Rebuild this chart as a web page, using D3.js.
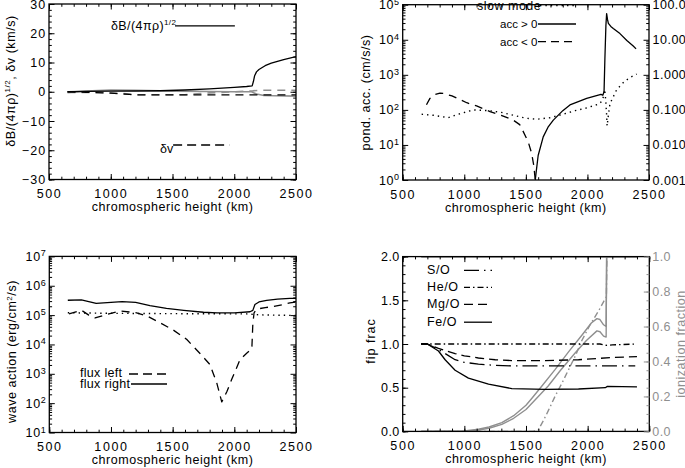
<!DOCTYPE html>
<html><head><meta charset="utf-8">
<script src="https://cdn.jsdelivr.net/npm/d3@7"></script>
<style>
body{margin:0;background:#fff}
svg text{font-family:"Liberation Sans",Arial,Helvetica,sans-serif;}
</style></head><body>
<svg id="c" width="685" height="468"></svg>
<script>
// ---------- data ----------
const heightTicks = [500, 1000, 1500, 2000, 2500];
const xLabel = "chromospheric height (km)";

// panel 1: amplitudes (km/s)
const velTicks = [-30, -20, -10, 0, 10, 20, 30];
const dBAlfven = [[650,0],[800,0.1],[1000,0.2],[1200,0.25],[1400,0.35],[1600,0.6],[1800,1.0],[2000,1.5],[2100,1.8],[2145,2.0],[2155,3.5],[2165,5.5],[2180,6.8],[2200,7.6],[2250,8.9],[2300,9.8],[2400,11.0],[2500,12.0]];
const dvBlack = [[650,0],[800,-0.2],[1000,-0.5],[1150,-0.9],[1200,-1.05],[1500,-1.1],[2000,-1.1],[2500,-1.1]];
const dBGray = [[650,-0.2],[800,0.2],[1000,0.6],[1200,0.5],[1500,0.2],[1800,0.1],[2000,0.0],[2140,0.0],[2180,-0.8],[2240,-1.3],[2500,-1.5]];
const dvGray = [[650,-0.2],[900,-0.2],[1100,-0.6],[1200,-1.0],[1600,-1.0],[1800,-0.4],[2000,0.0],[2150,0.3],[2200,0.5],[2500,0.5]];

// panel 2: ponderomotive acceleration (cm/s/s)
const accDecades = [1, 10, 100, 1000, 10000, 100000];
const accRightLabels = ["0.001", "0.010", "0.100", "1.000", "10.00", "100.0"];
const accPos = [[1575,0.9],[1582,1.5],[1600,5],[1641,17],[1680,32],[1723,51],[1800,95],[1858,138],[1994,214],[2110,277],[2125,262],[2135,330],[2142,3000],[2150,25000],[2156,56000],[2163,38000],[2170,29500],[2190,24000],[2210,21000],[2264,15000],[2320,9500],[2372,6600],[2395,5500]];
const accNeg = [[693,140],[720,210],[760,272],[803,300],[830,297],[900,250],[1020,160],[1100,130],[1209,89],[1300,70],[1398,51],[1450,38],[1479,24],[1520,12],[1547,5.8],[1565,2.5],[1574,1.2],[1578,0.8]];
const slowMode = [[654,75],[750,70],[870,60],[950,75],[1073,100],[1200,95],[1300,85],[1400,70],[1500,58],[1588,54],[1700,60],[1800,75],[1900,95],[2000,115],[2100,150],[2125,200],[2140,380],[2148,200],[2155,80],[2160,35],[2170,70],[2183,150],[2238,380],[2300,650],[2350,850],[2400,1050]];

// panel 3: wave action (erg/cm2/s)
const waveDecades = [10, 100, 1e3, 1e4, 1e5, 1e6, 1e7];
const fluxRight = [[650,3.2e5],[760,3.3e5],[880,2.5e5],[1000,2.7e5],[1090,2.9e5],[1200,2.7e5],[1316,2.1e5],[1450,1.7e5],[1590,1.45e5],[1750,1.25e5],[1860,1.2e5],[2000,1.2e5],[2127,1.3e5],[2150,1.45e5],[2167,2.3e5],[2200,2.8e5],[2262,3.2e5],[2350,3.5e5],[2450,3.7e5],[2500,3.7e5]];
const fluxLeft = [[660,1.1e5],[762,1.45e5],[820,1.0e5],[871,0.8e5],[950,1.0e5],[1073,1.38e5],[1208,1.2e5],[1300,0.9e5],[1370,0.63e5],[1500,3.2e4],[1613,1.5e4],[1720,5e3],[1801,2.1e3],[1857,5e2],[1898,1.1e2],[1940,2.5e2],[1979,6.5e2],[2047,3.1e3],[2100,5.0e3],[2142,7.1e3],[2150,5e4],[2160,1.2e5],[2180,1.6e5],[2250,1.8e5],[2316,1.95e5],[2400,2.3e5],[2450,2.6e5],[2500,2.8e5]];
const fluxTotal = [[650,1.2e5],[1000,1.15e5],[1500,1.12e5],[2100,1.1e5],[2200,1.02e5],[2500,0.97e5]];

// panel 4: FIP fractionation and ionization fraction
const fipTicks = [0, 0.5, 1.0, 1.5, 2.0];
const ionTicks = [0, 0.2, 0.4, 0.6, 0.8, 1.0];
const heOverO = [[650,1.0],[2100,1.0],[2150,0.985],[2200,0.99],[2400,1.0]];
const sOverO = [[650,1.0],[700,1.0],[800,0.93],[925,0.82],[1000,0.79],[1114,0.77],[1250,0.755],[1385,0.75],[1926,0.75],[2386,0.75]];
const mgOverO = [[650,1.0],[700,1.0],[790,0.95],[925,0.89],[1000,0.865],[1114,0.84],[1250,0.82],[1385,0.81],[1656,0.81],[1926,0.82],[2197,0.845],[2400,0.855]];
const feOverO = [[650,1.0],[700,1.0],[790,0.92],[844,0.82],[925,0.70],[1033,0.61],[1196,0.54],[1385,0.49],[1656,0.48],[1926,0.485],[2143,0.50],[2160,0.515],[2400,0.51]];
const ionTop = [[650,1.0],[2400,1.0]];
const ionA = [[650,0],[1000,0.002],[1114,0.012],[1200,0.025],[1304,0.05],[1400,0.09],[1500,0.15],[1548,0.19],[1629,0.26],[1737,0.355],[1845,0.455],[1953,0.55],[2030,0.62],[2075,0.645],[2100,0.64],[2129,0.61],[2150,0.6],[2154,1.0],[2400,1.0]];
const ionB = [[650,0],[1000,0.0],[1114,0.008],[1200,0.018],[1304,0.04],[1400,0.075],[1500,0.125],[1600,0.2],[1680,0.26],[1780,0.35],[1900,0.45],[1990,0.52],[2075,0.575],[2100,0.57],[2129,0.545],[2150,0.54],[2154,1.0],[2400,1.0]];
const ionHe = [[650,0],[1560,0],[1601,0.01],[1640,0.06],[1682,0.12],[1735,0.2],[1791,0.275],[1850,0.36],[1899,0.43],[1953,0.52],[2020,0.61],[2089,0.69],[2143,0.76],[2152,0.77],[2156,1.0]];

// ---------- drawing ----------
const svg = d3.select("#c");
const FONT = 12.5;
const GRAY = "#8f8f8f";
const DASH = "8,6", DOT = "1.4,4", DASHDOT = "6,3,1.5,3", LONGDASHDOT = "15,5,1.5,5", MGDASH = "9,5";

const panels = {
  p1: {x0: 49, x1: 296, y0: 4, y1: 179.5},
  p2: {x0: 402.7, x1: 649, y0: 4.7, y1: 180},
  p3: {x0: 49.3, x1: 296, y0: 256.4, y1: 432.5},
  p4: {x0: 402.7, x1: 649.3, y0: 256.6, y1: 431.4}
};

let clipId = 0;
function setupPanel(P) {
  const g = svg.append("g");
  const id = "clip" + (clipId++);
  svg.append("clipPath").attr("id", id).append("rect")
    .attr("x", P.x0).attr("y", P.y0).attr("width", P.x1 - P.x0).attr("height", P.y1 - P.y0);
  const plot = g.append("g").attr("clip-path", `url(#${id})`);
  return {g, plot};
}
function styleAxis(sel, color, ls) {
  sel.select(".domain").remove();
  sel.attr("font-family", null).attr("font-size", FONT);
  sel.selectAll("line").attr("stroke", color || "#000").attr("stroke-width", 1);
  sel.selectAll("text").attr("fill", color || "#000").style("letter-spacing", (ls == null ? 1.3 : ls) + "px");
}
function xAxes(g, P, x) {
  const minor = d3.range(500, 2501, 100);
  g.append("g").attr("transform", `translate(0,${P.y1})`)
    .call(d3.axisBottom(x).tickValues(heightTicks).tickSize(-5.5).tickPadding(10).tickFormat(d3.format("d"))).call(s => styleAxis(s, "#000", 1.6));
  g.append("g").attr("transform", `translate(0,${P.y1})`)
    .call(d3.axisBottom(x).tickValues(minor).tickSize(-2.8).tickFormat("")).call(styleAxis);
  g.append("g").attr("transform", `translate(0,${P.y0})`)
    .call(d3.axisTop(x).tickValues(heightTicks).tickSize(-5.5).tickFormat("")).call(styleAxis);
  g.append("g").attr("transform", `translate(0,${P.y0})`)
    .call(d3.axisTop(x).tickValues(minor).tickSize(-2.8).tickFormat("")).call(styleAxis);
  g.append("text").attr("x", (P.x0 + P.x1) / 2).attr("y", P.y1 + 31.5)
    .attr("text-anchor", "middle").attr("font-size", FONT).style("letter-spacing", "0.55px").text(xLabel);
}
function frame(g, P) {
  g.append("rect").attr("x", P.x0).attr("y", P.y0).attr("width", P.x1 - P.x0).attr("height", P.y1 - P.y0)
    .attr("fill", "none").attr("stroke", "#000").attr("stroke-width", 1.3);
}
function logMinor(decades) {
  const out = [];
  decades.slice(0, -1).forEach(d => { for (let k = 2; k <= 9; k++) out.push(d * k); });
  return out;
}
function supLabels(sel) {
  sel.selectAll(".tick text").each(function(d) {
    const t = d3.select(this);
    const e = Math.round(Math.log10(d));
    t.text(null).style("letter-spacing", "0.6px");
    t.append("tspan").text("10");
    t.append("tspan").attr("dy", "-0.5em").attr("font-size", 9).text(e);
  });
}
function yTitle(g, x, y, build) {
  const t = g.append("text").attr("transform", `translate(${x},${y}) rotate(-90)`)
    .attr("text-anchor", "middle").attr("font-size", FONT).style("letter-spacing", "0.55px");
  build(t);
  return t;
}
function drawLine(plot, data, x, y, stroke, dash, width) {
  plot.append("path").datum(data)
    .attr("d", d3.line().x(d => x(d[0])).y(d => y(d[1])))
    .attr("fill", "none").attr("stroke", stroke).attr("stroke-width", width || 1.3)
    .attr("stroke-dasharray", dash || null).attr("stroke-linejoin", "round");
}

// ===== Panel 1 =====
{
  const P = panels.p1;
  const {g, plot} = setupPanel(P);
  const x = d3.scaleLinear().domain([500, 2500]).range([P.x0, P.x1]);
  const y = d3.scaleLinear().domain([-30, 30]).range([P.y1, P.y0]);
  drawLine(plot, dBGray, x, y, GRAY, null, 1.6);
  drawLine(plot, dvGray, x, y, GRAY, DASH, 1.6);
  drawLine(plot, dvBlack, x, y, "#000", DASH);
  drawLine(plot, dBAlfven, x, y, "#000");
  frame(g, P);
  xAxes(g, P, x);
  const yMinor = d3.range(-30, 31, 2);
  g.append("g").attr("transform", `translate(${P.x0},0)`)
    .call(d3.axisLeft(y).tickValues(velTicks).tickSize(-5.5).tickPadding(2.5).tickFormat(d => d < 0 ? "\u2212" + (-d) : d)).call(s => styleAxis(s, "#000", 1.2));
  g.append("g").attr("transform", `translate(${P.x0},0)`)
    .call(d3.axisLeft(y).tickValues(yMinor).tickSize(-2.8).tickFormat("")).call(styleAxis);
  g.append("g").attr("transform", `translate(${P.x1},0)`)
    .call(d3.axisRight(y).tickValues(velTicks).tickSize(-5.5).tickFormat("")).call(styleAxis);
  g.append("g").attr("transform", `translate(${P.x1},0)`)
    .call(d3.axisRight(y).tickValues(yMinor).tickSize(-2.8).tickFormat("")).call(styleAxis);
  // legends
  const l1 = g.append("text").attr("x", 111).attr("y", 29.5).attr("font-size", FONT).style("letter-spacing", "0.4px");
  l1.append("tspan").text("\u03B4B/(4\u03C0\u03C1)");
  l1.append("tspan").attr("dy", -5).attr("font-size", 8).text("1/2");
  g.append("line").attr("x1", x(1520)).attr("x2", x(2005)).attr("y1", y(22.5)).attr("y2", y(22.5)).attr("stroke", "#000").attr("stroke-width", 1.3);
  g.append("text").attr("x", 160).attr("y", 153).attr("font-size", FONT).text("\u03B4v");
  g.append("line").attr("x1", x(1505)).attr("x2", x(1960)).attr("y1", y(-18.2)).attr("y2", y(-18.2)).attr("stroke", "#000").attr("stroke-width", 1.3).attr("stroke-dasharray", "9,5");
  yTitle(g, 15, 81, t => {
    t.append("tspan").text("\u03B4B/(4\u03C0\u03C1)");
    t.append("tspan").attr("dy", -5).attr("font-size", 8).text("1/2");
    t.append("tspan").attr("dy", 5).text(", \u03B4v (km/s)");
  });
}

// ===== Panel 2 =====
{
  const P = panels.p2;
  const {g, plot} = setupPanel(P);
  const x = d3.scaleLinear().domain([500, 2500]).range([P.x0, P.x1]);
  const y = d3.scaleLog().domain([1, 1e5]).range([P.y1, P.y0]);
  drawLine(plot, slowMode, x, y, "#000", DOT, 1.4);
  drawLine(plot, accNeg, x, y, "#000", DASH);
  drawLine(plot, accPos, x, y, "#000");
  frame(g, P);
  xAxes(g, P, x);
  const minor = logMinor(accDecades);
  g.append("g").attr("transform", `translate(${P.x0},0)`)
    .call(d3.axisLeft(y).tickValues(accDecades).tickSize(-5.5).tickPadding(3)).call(styleAxis).call(supLabels);
  g.append("g").attr("transform", `translate(${P.x0},0)`)
    .call(d3.axisLeft(y).tickValues(minor).tickSize(-2.8).tickFormat("")).call(styleAxis);
  g.append("g").attr("transform", `translate(${P.x1},0)`)
    .call(d3.axisRight(y).tickValues(accDecades).tickSize(-5.5).tickPadding(3.5).tickFormat((d, i) => accRightLabels[i])).call(s => styleAxis(s, "#000", 0.5));
  g.append("g").attr("transform", `translate(${P.x1},0)`)
    .call(d3.axisRight(y).tickValues(minor).tickSize(-2.8).tickFormat("")).call(styleAxis);
  // legend
  g.append("text").attr("x", 477).attr("y", 9.5).attr("font-size", FONT).style("letter-spacing", "0.5px").text("slow mode");
  g.append("line").attr("x1", 540).attr("x2", 576).attr("y1", 5.5).attr("y2", 5.5).attr("stroke", "#000").attr("stroke-width", 1.4).attr("stroke-dasharray", DOT);
  g.append("text").attr("x", 500).attr("y", 28).attr("font-size", 11.5).text("acc > 0");
  g.append("line").attr("x1", 538).attr("x2", 576).attr("y1", 24).attr("y2", 24).attr("stroke", "#000").attr("stroke-width", 1.3);
  g.append("text").attr("x", 500).attr("y", 45.5).attr("font-size", 11.5).text("acc < 0");
  g.append("line").attr("x1", 538).attr("x2", 576).attr("y1", 41.7).attr("y2", 41.7).attr("stroke", "#000").attr("stroke-width", 1.3).attr("stroke-dasharray", "8,5");
  yTitle(g, 370, 92.5, t => t.text("pond. acc. (cm/s/s)"));
}

// ===== Panel 3 =====
{
  const P = panels.p3;
  const {g, plot} = setupPanel(P);
  const x = d3.scaleLinear().domain([500, 2500]).range([P.x0, P.x1]);
  const y = d3.scaleLog().domain([10, 1e7]).range([P.y1, P.y0]);
  drawLine(plot, fluxTotal, x, y, "#000", DOT, 1.4);
  drawLine(plot, fluxLeft, x, y, "#000", DASH);
  drawLine(plot, fluxRight, x, y, "#000");
  frame(g, P);
  xAxes(g, P, x);
  const minor = logMinor(waveDecades);
  g.append("g").attr("transform", `translate(${P.x0},0)`)
    .call(d3.axisLeft(y).tickValues(waveDecades).tickSize(-5.5).tickPadding(3)).call(styleAxis).call(supLabels);
  g.append("g").attr("transform", `translate(${P.x0},0)`)
    .call(d3.axisLeft(y).tickValues(minor).tickSize(-2.8).tickFormat("")).call(styleAxis);
  g.append("g").attr("transform", `translate(${P.x1},0)`)
    .call(d3.axisRight(y).tickValues(waveDecades).tickSize(-5.5).tickFormat("")).call(styleAxis);
  g.append("g").attr("transform", `translate(${P.x1},0)`)
    .call(d3.axisRight(y).tickValues(minor).tickSize(-2.8).tickFormat("")).call(styleAxis);
  g.append("text").attr("x", 80).attr("y", 377).attr("font-size", FONT).style("letter-spacing", "0.3px").text("flux  left");
  g.append("line").attr("x1", 129).attr("x2", 167).attr("y1", 374).attr("y2", 374).attr("stroke", "#000").attr("stroke-width", 1.3).attr("stroke-dasharray", "9,5");
  g.append("text").attr("x", 80).attr("y", 387.5).attr("font-size", FONT).style("letter-spacing", "0.3px").text("flux  right");
  g.append("line").attr("x1", 131).attr("x2", 167).attr("y1", 384).attr("y2", 384).attr("stroke", "#000").attr("stroke-width", 1.3);
  yTitle(g, 16, 351.5, t => {
    t.append("tspan").text("wave action (erg/cm");
    t.append("tspan").attr("dy", -4).attr("font-size", 8).text("2");
    t.append("tspan").attr("dy", 4).text("/s)");
  });
}

// ===== Panel 4 =====
{
  const P = panels.p4;
  const {g, plot} = setupPanel(P);
  const x = d3.scaleLinear().domain([500, 2500]).range([P.x0, P.x1]);
  const y = d3.scaleLinear().domain([0, 2]).range([P.y1, P.y0]);
  const yR = d3.scaleLinear().domain([0, 1]).range([P.y1, P.y0]);
  drawLine(plot, ionTop, x, yR, GRAY, null, 2.2);
  drawLine(plot, ionA, x, yR, GRAY, null, 1.4);
  drawLine(plot, ionB, x, yR, GRAY, null, 1.4);
  drawLine(plot, ionHe, x, yR, GRAY, DASHDOT, 1.4);
  drawLine(plot, heOverO, x, y, "#000", DASHDOT);
  drawLine(plot, sOverO, x, y, "#000", LONGDASHDOT);
  drawLine(plot, mgOverO, x, y, "#000", MGDASH);
  drawLine(plot, feOverO, x, y, "#000");
  frame(g, P);
  xAxes(g, P, x);
  g.append("g").attr("transform", `translate(${P.x0},0)`)
    .call(d3.axisLeft(y).tickValues(fipTicks).tickSize(-5.5).tickPadding(3).tickFormat(d3.format(".1f"))).call(s => styleAxis(s, "#000", 0.4));
  g.append("g").attr("transform", `translate(${P.x0},0)`)
    .call(d3.axisLeft(y).tickValues(d3.range(0, 2.01, 0.1)).tickSize(-2.8).tickFormat("")).call(styleAxis);
  g.append("g").attr("transform", `translate(${P.x1},0)`)
    .call(d3.axisRight(yR).tickValues(ionTicks).tickSize(-5.5).tickPadding(3).tickFormat(d3.format(".1f"))).call(s => styleAxis(s, GRAY, 0.4));
  g.append("g").attr("transform", `translate(${P.x1},0)`)
    .call(d3.axisRight(yR).tickValues(d3.range(0, 1.001, 0.05)).tickSize(-2.8).tickFormat("")).call(s => styleAxis(s, GRAY));
  // legend
  const leg = [["S/O", LONGDASHDOT, 273.5, 270.3], ["He/O", DASHDOT, 291, 287.3], ["Mg/O", MGDASH, 308, 304.3], ["Fe/O", null, 326, 322.2]];
  leg.forEach(([name, dash, ty, ly]) => {
    g.append("text").attr("x", 427).attr("y", ty).attr("font-size", FONT).style("letter-spacing", "0.6px").text(name);
    g.append("line").attr("x1", 464).attr("x2", 492).attr("y1", ly).attr("y2", ly).attr("stroke", "#000").attr("stroke-width", 1.3).attr("stroke-dasharray", dash);
  });
  yTitle(g, 375, 341, t => t.style("letter-spacing", "1px").text("fip frac"));
  yTitle(g, 685, 344, t => t.attr("fill", GRAY).text("ionization fraction"));
}
</script>
</body></html>
